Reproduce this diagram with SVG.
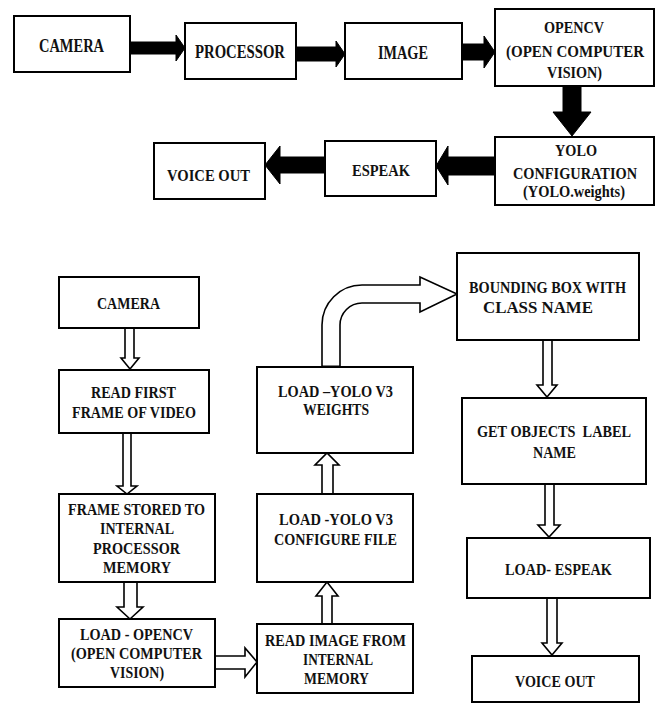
<svg xmlns="http://www.w3.org/2000/svg" width="662" height="704" viewBox="0 0 662 704">
<style>
.box{fill:#fff;stroke:#000;stroke-width:2}
.solid{fill:#000;stroke:#000;stroke-width:1}
.hollow{fill:#fff;stroke:#000;stroke-width:1.6;stroke-linejoin:miter}
</style>
<rect width="662" height="704" fill="#fff"/>
<g id="connectors">
<polygon class="solid" points="130,42 176,42 176,35 185,48 176,61 176,54 130,54"/>
<polygon class="solid" points="296,47 336,47 336,41 345,54 336,67 336,61 296,61"/>
<polygon class="solid" points="462,44 484,44 484,36 495,52 484,68 484,60 462,60"/>
<polygon class="solid" points="563,86 581,86 581,112 591,112 572,136 553,112 563,112"/>
<polygon class="solid" points="495,157 448,157 448,146 436,166 448,185 448,175 495,175"/>
<polygon class="solid" points="325,157 280,157 280,146 265,165 280,184 280,173 325,173"/>
<polygon class="hollow" points="125,328 125,358 121,358 130,369 139,358 134,358 134,328"/>
<polygon class="hollow" points="123,433 123,486 117,486 127,494 137,486 131,486 131,433"/>
<polygon class="hollow" points="124,582 124,607 117,607 130,619 143,607 137,607 137,582"/>
<polygon class="hollow" points="215,656 245,656 245,648 257,662 245,677 245,669 215,669"/>
<polygon class="hollow" points="322,624 322,596 316,596 327,582 338,596 332,596 332,624"/>
<polygon class="hollow" points="322,494 322,465 315,465 327,453 339,465 333,465 333,494"/>
<path class="hollow" d="M322,367 L322,325 A40,40 0 0 1 362,285 L420,285 L420,277 L457,294 L420,312 L420,303 L362,303 A22,22 0 0 0 340,325 L340,367 Z"/>
<line x1="322" y1="367" x2="340" y2="367" stroke="#000" stroke-width="3"/>
<polygon class="hollow" points="543,340 543,385 537,385 547,397 557,385 552,385 552,340"/>
<polygon class="hollow" points="545,484 545,525 538,525 549,537 560,525 554,525 554,484"/>
<polygon class="hollow" points="547,598 547,643 542,643 552,655 562,643 557,643 557,598"/>
</g>
<g id="nodes" font-family="Liberation Serif, Times New Roman, serif" font-weight="bold" font-size="17" fill="#111" lengthAdjust="spacingAndGlyphs">
<g id="t_camera"><rect class="box" x="14" y="16" width="116" height="56"/><text font-size="18" x="39" y="52" textLength="65" lengthAdjust="spacingAndGlyphs">CAMERA</text></g>
<g id="t_processor"><rect class="box" x="185" y="23" width="111" height="56"/><text font-size="18" x="195" y="58" textLength="90" lengthAdjust="spacingAndGlyphs">PROCESSOR</text></g>
<g id="t_image"><rect class="box" x="345" y="23" width="117" height="56"/><text font-size="18" x="378" y="59" textLength="50" lengthAdjust="spacingAndGlyphs">IMAGE</text></g>
<g id="t_opencv"><rect class="box" x="495" y="9" width="159" height="77"/>
<text x="544" y="33" textLength="60" lengthAdjust="spacingAndGlyphs">OPENCV</text>
<text x="506" y="57" textLength="138" lengthAdjust="spacingAndGlyphs">(OPEN COMPUTER</text>
<text x="547" y="78" textLength="55" lengthAdjust="spacingAndGlyphs">VISION)</text></g>
<g id="t_yolo"><rect class="box" x="495" y="137" width="159" height="68"/>
<text x="555" y="156" textLength="42" lengthAdjust="spacingAndGlyphs">YOLO</text>
<text x="513" y="179" textLength="124" lengthAdjust="spacingAndGlyphs">CONFIGURATION</text>
<text x="523" y="197" textLength="102" lengthAdjust="spacingAndGlyphs">(YOLO.weights)</text></g>
<g id="t_espeak"><rect class="box" x="325" y="141" width="111" height="55"/><text x="352" y="176" textLength="58" lengthAdjust="spacingAndGlyphs">ESPEAK</text></g>
<g id="t_voice"><rect class="box" x="154" y="143" width="111" height="56"/><text x="167" y="181" textLength="83" lengthAdjust="spacingAndGlyphs">VOICE OUT</text></g>
<g id="b_camera"><rect class="box" x="59" y="277" width="140" height="51"/><text x="97" y="309" textLength="63" lengthAdjust="spacingAndGlyphs">CAMERA</text></g>
<g id="b_readfirst"><rect class="box" x="59" y="370" width="150" height="63"/>
<text x="91" y="398" textLength="85" lengthAdjust="spacingAndGlyphs">READ FIRST</text>
<text x="72" y="418" textLength="124" lengthAdjust="spacingAndGlyphs">FRAME OF VIDEO</text></g>
<g id="b_stored"><rect class="box" x="59" y="494" width="156" height="88"/>
<text x="68" y="515" textLength="137" lengthAdjust="spacingAndGlyphs">FRAME STORED TO</text>
<text x="100" y="534" textLength="74" lengthAdjust="spacingAndGlyphs">INTERNAL</text>
<text x="93" y="554" textLength="87" lengthAdjust="spacingAndGlyphs">PROCESSOR</text>
<text x="103" y="573" textLength="68" lengthAdjust="spacingAndGlyphs">MEMORY</text></g>
<g id="b_opencv"><rect class="box" x="59" y="619" width="156" height="68"/>
<text x="80" y="640" textLength="113" lengthAdjust="spacingAndGlyphs">LOAD - OPENCV</text>
<text x="71" y="659" textLength="131" lengthAdjust="spacingAndGlyphs">(OPEN COMPUTER</text>
<text x="110" y="678" textLength="54" lengthAdjust="spacingAndGlyphs">VISION)</text></g>
<g id="b_readimage"><rect class="box" x="257" y="624" width="156" height="69"/>
<text x="265" y="646" textLength="141" lengthAdjust="spacingAndGlyphs">READ IMAGE FROM</text>
<text x="303" y="665" textLength="70" lengthAdjust="spacingAndGlyphs">INTERNAL</text>
<text x="304" y="684" textLength="65" lengthAdjust="spacingAndGlyphs">MEMORY</text></g>
<g id="b_config"><rect class="box" x="257" y="494" width="156" height="88"/>
<text x="279" y="525" textLength="114" lengthAdjust="spacingAndGlyphs">LOAD -YOLO V3</text>
<text x="274" y="545" textLength="123" lengthAdjust="spacingAndGlyphs">CONFIGURE FILE</text></g>
<g id="b_weights"><rect class="box" x="257" y="367" width="156" height="86"/>
<text x="278" y="397" textLength="115" lengthAdjust="spacingAndGlyphs">LOAD –YOLO V3</text>
<text x="303" y="415" textLength="66" lengthAdjust="spacingAndGlyphs">WEIGHTS</text></g>
<g id="b_bbox"><rect class="box" x="457" y="253" width="182" height="87"/>
<text x="469" y="293" textLength="157" lengthAdjust="spacingAndGlyphs">BOUNDING BOX WITH</text>
<text x="483" y="313" textLength="110" lengthAdjust="spacingAndGlyphs">CLASS NAME</text></g>
<g id="b_label"><rect class="box" x="462" y="398" width="184" height="86"/>
<text x="477" y="437" textLength="154" lengthAdjust="spacingAndGlyphs" xml:space="preserve">GET OBJECTS  LABEL</text>
<text x="533" y="458" textLength="43" lengthAdjust="spacingAndGlyphs">NAME</text></g>
<g id="b_espeak"><rect class="box" x="467" y="538" width="183" height="60"/>
<text x="505" y="575" textLength="107" lengthAdjust="spacingAndGlyphs">LOAD- ESPEAK</text></g>
<g id="b_voice"><rect class="box" x="472" y="656" width="167" height="46"/>
<text x="515" y="687" textLength="80" lengthAdjust="spacingAndGlyphs">VOICE OUT</text></g>
</g>
</svg>
